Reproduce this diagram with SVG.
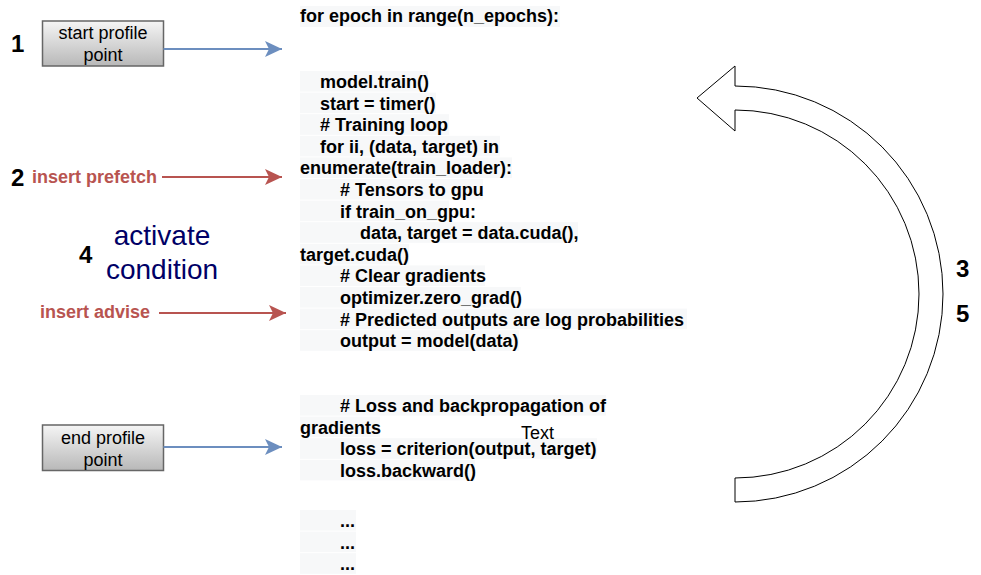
<svg xmlns="http://www.w3.org/2000/svg" width="981" height="575" viewBox="0 0 981 575">
<style>
.code{font-family:"Liberation Sans",Arial,sans-serif;font-size:18px;font-weight:bold;fill:#000}
.bg{fill:#f7f8f9}
.box{fill:url(#gbox);stroke:#666666;stroke-width:1.5}
.boxt{font-family:"Liberation Sans",Arial,sans-serif;font-size:18px;fill:#000;text-anchor:middle}
.num{font-family:"Liberation Sans",Arial,sans-serif;font-size:24px;font-weight:bold;fill:#000}
.red{font-family:"Liberation Sans",Arial,sans-serif;font-size:18px;font-weight:bold;fill:#b85450}
.blue{stroke:#6c8ebf;stroke-width:2;fill:none}
.redl{stroke:#b85450;stroke-width:2;fill:none}
</style>
<defs>
<linearGradient id="gbox" x1="0" y1="0" x2="0" y2="1">
<stop offset="0" stop-color="#f5f5f5"/>
<stop offset="1" stop-color="#b8b8b8"/>
</linearGradient>
<marker id="ab" markerUnits="userSpaceOnUse" markerWidth="20" markerHeight="20" viewBox="-18 -10 20 20" refX="0" refY="0" orient="auto">
<path d="M0,0 L-17,-8 L-13,0 L-17,8 Z" fill="#6c8ebf"/>
</marker>
<marker id="ar" markerUnits="userSpaceOnUse" markerWidth="20" markerHeight="20" viewBox="-18 -10 20 20" refX="0" refY="0" orient="auto">
<path d="M0,0 L-17,-8 L-13,0 L-17,8 Z" fill="#b85450"/>
</marker>
</defs>
<rect width="981" height="575" fill="#ffffff"/>

<g id="code">
<rect class="bg" x="300" y="6" width="260" height="21"/>
<rect class="bg" x="300" y="71" width="128" height="20.6"/>
<rect class="bg" x="300" y="92.6" width="136" height="20.6"/>
<rect class="bg" x="300" y="114.2" width="149" height="20.6"/>
<rect class="bg" x="300" y="135.8" width="200" height="20.6"/>
<rect class="bg" x="300" y="157.4" width="212" height="20.6"/>
<rect class="bg" x="300" y="179" width="183" height="20.6"/>
<rect class="bg" x="300" y="200.6" width="149" height="20.6"/>
<rect class="bg" x="300" y="222.2" width="278" height="20.6"/>
<rect class="bg" x="300" y="243.8" width="109" height="20.6"/>
<rect class="bg" x="300" y="265.4" width="185" height="20.6"/>
<rect class="bg" x="300" y="287" width="221" height="20.6"/>
<rect class="bg" x="300" y="308.6" width="387" height="20.6"/>
<rect class="bg" x="300" y="330.2" width="219" height="20.6"/>
<rect class="bg" x="300" y="395" width="306" height="20.6"/>
<rect class="bg" x="300" y="416.6" width="80" height="20.6"/>
<rect class="bg" x="300" y="438.2" width="297" height="20.6"/>
<rect class="bg" x="300" y="459.8" width="175" height="20.6"/>
<rect class="bg" x="300" y="510" width="56" height="20.6"/>
<rect class="bg" x="300" y="531.6" width="56" height="20.6"/>
<rect class="bg" x="300" y="553.2" width="56" height="20.6"/>

<text class="code" x="300" y="22">for epoch in range(n_epochs):</text>
<text class="code" x="320" y="88">model.train()</text>
<text class="code" x="320" y="109.6">start = timer()</text>
<text class="code" x="320" y="131.2"># Training loop</text>
<text class="code" x="320" y="152.8">for ii, (data, target) in</text>
<text class="code" x="300" y="174.4">enumerate(train_loader):</text>
<text class="code" x="340" y="196"># Tensors to gpu</text>
<text class="code" x="340" y="217.6">if train_on_gpu:</text>
<text class="code" x="360" y="239.2">data, target = data.cuda(),</text>
<text class="code" x="300" y="260.8">target.cuda()</text>
<text class="code" x="340" y="282.4"># Clear gradients</text>
<text class="code" x="340" y="304">optimizer.zero_grad()</text>
<text class="code" x="340" y="325.6"># Predicted outputs are log probabilities</text>
<text class="code" x="340" y="347.2">output = model(data)</text>
<text class="code" x="340" y="412"># Loss and backpropagation of</text>
<text class="code" x="300" y="433.6">gradients</text>
<text class="code" x="340" y="455.2">loss = criterion(output, target)</text>
<text class="code" x="340" y="476.8">loss.backward()</text>
<text class="code" x="340" y="527">...</text>
<text class="code" x="340" y="548.6">...</text>
<text class="code" x="340" y="570.2">...</text>
<text x="521" y="439" font-family="Liberation Sans, Arial, sans-serif" font-size="18" fill="#000">Text</text>
</g>

<g id="start-profile">
<rect class="box" x="42.5" y="21" width="121" height="45"/>
<text class="boxt" x="103" y="38.5">start profile</text>
<text class="boxt" x="103" y="60.5">point</text>
</g>
<g id="end-profile">
<rect class="box" x="42.5" y="425" width="121" height="45.5"/>
<text class="boxt" x="103" y="443.5">end profile</text>
<text class="boxt" x="103" y="465.5">point</text>
</g>

<g id="labels">
<text class="num" x="11" y="52">1</text>
<text class="num" x="11" y="186">2</text>
<text class="num" x="79" y="263">4</text>
<text class="num" x="956" y="277">3</text>
<text class="num" x="956" y="322">5</text>
<text class="red" x="32" y="183">insert prefetch</text>
<text class="red" x="40" y="318">insert advise</text>
<text x="162" y="245" font-family="Liberation Sans, Arial, sans-serif" font-size="28" fill="#000066" text-anchor="middle">activate</text>
<text x="162" y="279" font-family="Liberation Sans, Arial, sans-serif" font-size="28" fill="#000066" text-anchor="middle">condition</text>
</g>

<g id="loop-arrow">
<path d="M735,86 A208,208 0 0 1 735,502 L735,478 A184,184 0 0 0 735,110 L735,131 L697,98 L735,66 Z" fill="#ffffff" stroke="#000" stroke-width="1"/>
</g>

<g id="connectors">
<line class="blue" x1="163.5" y1="49" x2="282" y2="49" marker-end="url(#ab)"/>
<line class="blue" x1="163.5" y1="447" x2="282" y2="447" marker-end="url(#ab)"/>
<line class="redl" x1="162" y1="177" x2="282" y2="177" marker-end="url(#ar)"/>
<line class="redl" x1="159" y1="313" x2="286" y2="313" marker-end="url(#ar)"/>
</g>
</svg>
